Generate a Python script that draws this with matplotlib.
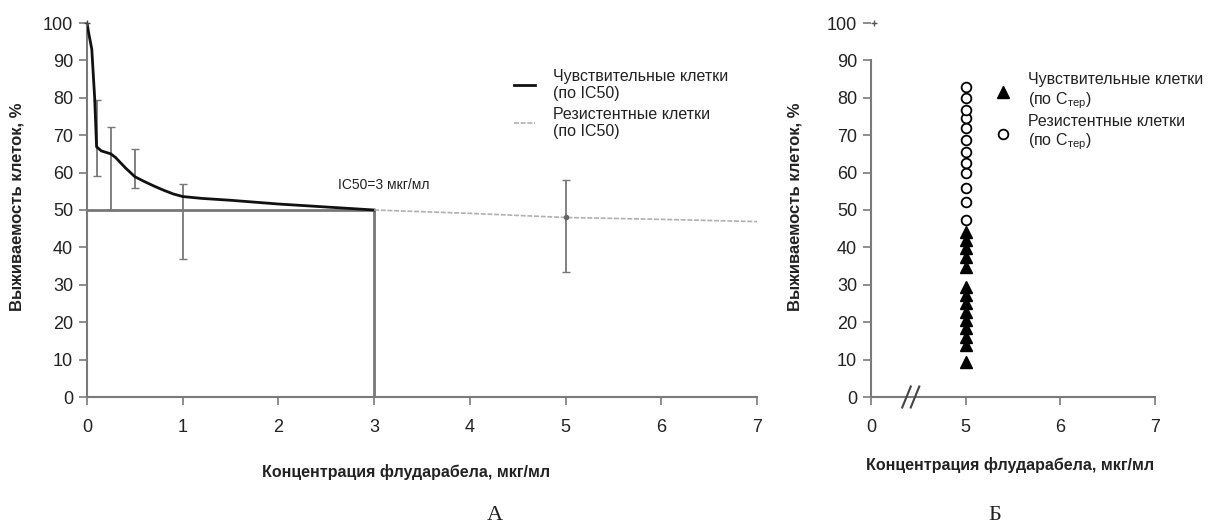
import matplotlib
matplotlib.use("Agg")
import matplotlib.pyplot as plt

plt.rcParams['font.family'] = ['Liberation Sans', 'DejaVu Sans']

# --- Панель А: кривая выживаемости ---
conc_sens = [0, 0.02, 0.05, 0.08, 0.1, 0.15, 0.25, 0.3, 0.4, 0.5, 0.6, 0.7, 0.8, 0.9, 1.0,
             1.2, 1.5, 2.0, 2.5, 3.0]
surv_sens = [100, 97, 93, 80, 66.9, 65.8, 65, 64, 61.3, 58.9, 57.6, 56.4, 55.3, 54.3, 53.6,
             53.1, 52.6, 51.6, 50.8, 50]

conc_res = [3, 4, 5, 6, 7]
surv_res = [50, 49.1, 48, 47.5, 46.9]

err_x = [0.1, 0.25, 0.5, 1.0, 5.0]
err_y = [66.9, 65, 58.9, 53.6, 48]
err_lo = [59.2, 50, 56, 36.8, 33.5]
err_hi = [79.4, 72.1, 66.3, 57, 58]

ic50 = 3
ic50_level = 50

# --- Панель Б: точки при 5 мкг/мл ---
sens_pts = [44.2, 42, 39.8, 37.5, 34.8, 29.5, 27.3, 25.1, 22.8, 20.6, 18.4, 16.1, 13.9, 9.4]
res_pts = [47.3, 52.2, 55.8, 59.8, 62.5, 65.6, 68.7, 71.8, 74.5, 76.7, 79.9, 82.8]
dose_b = 5

axis_col = '#7a7a7a'
txt_col = '#222222'

fig = plt.figure(figsize=(12.13, 5.23), dpi=100)
axA = fig.add_axes([87 / 1213, 1 - 397 / 523, 670 / 1213, 374 / 523])
axB = fig.add_axes([871 / 1213, 1 - 397 / 523, 284 / 1213, 374 / 523])

for ax in (axA, axB):
    for s in ('top', 'right'):
        ax.spines[s].set_visible(False)
    for s in ('left', 'bottom'):
        ax.spines[s].set_color(axis_col)
        ax.spines[s].set_linewidth(1.5)
    ax.tick_params(direction='out', length=6, width=1.2, color=axis_col,
                   labelcolor=txt_col, labelsize=13)
    ax.tick_params(axis='y', pad=4)
    ax.tick_params(axis='x', pad=10)
    ax.set_ylim(0, 100)
    ax.set_yticks(range(0, 101, 10))
    ax.set_ylabel('Выживаемость клеток, %', fontsize=12, fontweight='bold', color=txt_col)
    ax.set_xlabel('Концентрация флударабела, мкг/мл', fontsize=11.5, fontweight='bold', color=txt_col)

# А
axA.set_xlim(0, 7)
axA.set_xticks(range(0, 8))
axA.plot([0, ic50], [ic50_level, ic50_level], color='#777777', lw=2, zorder=1)
axA.plot([ic50, ic50], [0, ic50_level], color='#777777', lw=2, zorder=1)
axA.errorbar(err_x, err_y, yerr=[[y - l for y, l in zip(err_y, err_lo)],
                                 [h - y for y, h in zip(err_y, err_hi)]],
             fmt='none', ecolor='#777777', elinewidth=1.3, capsize=3, zorder=2)
axA.plot(conc_sens, surv_sens, color='#111111', lw=2, label='Чувствительные клетки\n(по IC50)', zorder=3)
axA.plot(conc_res, surv_res, color='#b0b0b0', lw=1.2, ls=(0, (3, 1)),
         label='Резистентные клетки\n(по IC50)', zorder=3)
axA.plot([err_x[-1]], [err_y[-1]], marker='o', ms=3, color='#666666', zorder=4)
axA.plot([conc_sens[0]], [surv_sens[0]], marker='+', ms=5, color='#444444', clip_on=False, zorder=4)
axA.text(2.62, 56.7, 'IC50=3 мкг/мл', fontsize=10, color=txt_col, va='center')
axA.legend(loc='upper left', bbox_to_anchor=(0.638, 0.878), frameon=False, fontsize=11.5,
           handlelength=1.3, handletextpad=1.1, labelspacing=0.35, borderpad=0,
           borderaxespad=0, labelcolor=txt_col)
axA.yaxis.set_label_coords(-0.094, 0.51)
axA.xaxis.set_label_coords(0.476, -0.18)

# Б (ось с разрывом: позиция 4 подписана как 0)
axB.set_xlim(4, 7)
axB.set_xticks([4, 5, 6, 7])
axB.set_xticklabels(['0', '5', '6', '7'])
axB.spines['left'].set_bounds(0, 90)
axB.plot([dose_b] * len(sens_pts), sens_pts, ls='none', marker='^', ms=8, color='black',
         label='Чувствительные клетки\n(по C$_{\\mathregular{тер}}$)', zorder=3)
axB.plot([dose_b] * len(res_pts), res_pts, ls='none', marker='o', ms=7, mfc='white', mec='black',
         mew=1.3, label='Резистентные клетки\n(по C$_{\\mathregular{тер}}$)', zorder=3)
axB.plot([4.03], [100], marker='+', ms=5, color='#555555', clip_on=False)
for x0 in (4.33, 4.42):
    axB.plot([x0, x0 + 0.09], [-2.8, 2.8], color='#444444', lw=1.5, clip_on=False, zorder=5)
axB.legend(loc='upper left', bbox_to_anchor=(0.43, 0.868), frameon=False, fontsize=11.5,
           handlelength=1.2, handletextpad=1.0, labelspacing=0.2, borderpad=0,
           borderaxespad=0, labelcolor=txt_col)
axB.yaxis.set_label_coords(-0.24, 0.51)
axB.xaxis.set_label_coords(0.49, -0.16)

fig.text(495 / 1213, 1 - 515 / 523, 'А', family='Liberation Serif', fontsize=16,
         ha='center', va='center', color=txt_col)
fig.text(995 / 1213, 1 - 515 / 523, 'Б', family='Liberation Serif', fontsize=16,
         ha='center', va='center', color=txt_col)

fig.savefig('out.png', dpi=100)
